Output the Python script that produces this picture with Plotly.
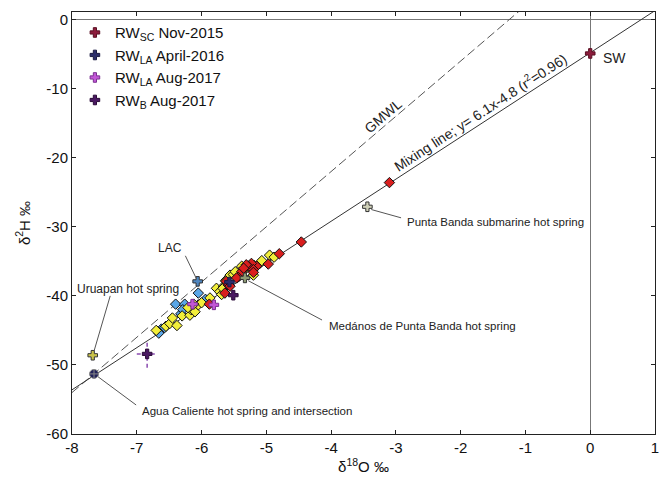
import math
import plotly.graph_objects as go

# ---------------- data ----------------
x_range = [-8, 1]
y_range = [-60, 1.1]
x_ticks = list(range(-8, 2))
y_ticks = list(range(-60, 1, 10))
x_ticktext = [str(v) for v in x_ticks]
y_ticktext = [str(v) for v in y_ticks]

mix_slope, mix_int = 6.1, -4.8      # mixing line y = 6.1x - 4.8
gmwl_slope, gmwl_int = 8.0, 10.0    # GMWL y = 8x + 10

blue_x = [-6.05, -6.40, -6.26, -6.32, -6.62, -6.57, -6.66, -5.94, -6.29]
blue_y = [-39.6, -41.2, -41.2, -42.6, -44.8, -44.6, -45.4, -40.5, -42.0]

yellow_x = [-6.70, -6.55, -6.49, -6.38, -6.30, -6.18, -6.16, -6.21, -6.10, -6.05,
            -6.00, -5.87, -5.77, -5.72, -5.66, -5.56, -5.51, -5.48, -5.38, -5.30,
            -5.19, -5.20, -5.10, -5.07, -4.95, -4.88, -5.69, -5.67, -6.45, -6.12, -5.63]
yellow_y = [-45.0, -44.4, -44.0, -44.3, -42.9, -42.8, -42.0, -41.7, -42.3, -41.3,
            -41.0, -40.3, -38.9, -39.4, -38.6, -37.0, -36.9, -36.5, -35.7, -35.9,
            -35.6, -37.0, -35.3, -34.9, -34.1, -34.4, -39.8, -38.9, -43.2, -41.2, -37.8]

red_x = [-4.46, -4.80, -4.97, -5.15, -5.23, -5.28, -5.20, -5.20, -5.31, -5.38,
         -5.44, -5.46, -5.59, -5.62, -5.56, -5.64, -5.35, -5.88, -3.10]
red_y = [-32.2, -33.9, -35.4, -35.7, -35.3, -35.7, -36.2, -36.6, -35.5, -36.5,
         -37.3, -37.4, -38.4, -37.9, -38.6, -39.6, -36.0, -41.2, -23.6]

rwsc_x, rwsc_y = [0.0], [-4.9]
rwla16_x, rwla16_y = [-5.57], [-38.0]
rwla17_x, rwla17_y = [-6.14, -5.81], [-41.2, -41.3]
rwb_x, rwb_y = [-5.51, -6.84], [-39.9, -48.4]
rwb_ex, rwb_ey = [0.0, 0.16], [0.0, 2.0]

lac_x, lac_y = [-6.06], [-37.9]
uru_x, uru_y = [-7.68], [-48.6]
agua_x, agua_y = [-7.66], [-51.3]
medanos_x, medanos_y = [-5.33], [-37.4]
punta_x, punta_y = [-3.44], [-27.1]

legend_names = ["RW<sub>SC</sub> Nov-2015", "RW<sub>LA</sub> April-2016",
                "RW<sub>LA</sub> Aug-2017", "RW<sub>B</sub> Aug-2017"]

# ---------------- layout geometry ----------------
W, H = 672, 488
ML, MR, MT, MB = 72, 17, 12, 54
pw, ph = W - ML - MR, H - MT - MB
px_per_x = pw / (x_range[1] - x_range[0])
px_per_y = ph / (y_range[1] - y_range[0])

def angle(slope):
    return -math.degrees(math.atan(slope * px_per_y / px_per_x))

FONT = "Liberation Sans, Arial, sans-serif"
fig = go.Figure()

# lines
lx = [x_range[0], x_range[1]]
fig.add_trace(go.Scatter(x=lx, y=[gmwl_slope * v + gmwl_int for v in lx], mode="lines",
                         line=dict(color="#555555", width=1, dash="9px,4px"),
                         showlegend=False, hoverinfo="skip"))
fig.add_trace(go.Scatter(x=lx, y=[mix_slope * v + mix_int for v in lx], mode="lines",
                         line=dict(color="#333333", width=1), showlegend=False, hoverinfo="skip"))

# error bars (dashed) for RWB point
for xv, yv, ex, ey in zip(rwb_x, rwb_y, rwb_ex, rwb_ey):
    if ex > 0:
        fig.add_trace(go.Scatter(x=[xv - ex, xv + ex], y=[yv, yv], mode="lines",
                                 line=dict(color="#8a4cb0", width=1.5, dash="4px,3px"),
                                 showlegend=False, hoverinfo="skip"))
        fig.add_trace(go.Scatter(x=[xv, xv], y=[yv - ey, yv + ey], mode="lines",
                                 line=dict(color="#8a4cb0", width=1.5, dash="4px,3px"),
                                 showlegend=False, hoverinfo="skip"))

dia_line = dict(color="#111111", width=1)
fig.add_trace(go.Scatter(x=blue_x, y=blue_y, mode="markers", showlegend=False,
                         marker=dict(symbol="diamond", size=8, color="#5aa6e6", line=dia_line)))
fig.add_trace(go.Scatter(x=yellow_x, y=yellow_y, mode="markers", showlegend=False,
                         marker=dict(symbol="diamond", size=8, color="#f2ee3a", line=dia_line)))
fig.add_trace(go.Scatter(x=red_x, y=red_y, mode="markers", showlegend=False,
                         marker=dict(symbol="diamond", size=8, color="#d91e1e", line=dia_line)))

def cross(xs, ys, color, name=None, size=8, lc="#333333", sym="cross"):
    fig.add_trace(go.Scatter(x=xs, y=ys, mode="markers", name=name or "",
                             showlegend=name is not None,
                             marker=dict(symbol=sym, size=size, color=color,
                                         line=dict(color=lc, width=1))))

cross(lac_x, lac_y, "#4f86bf")
cross(uru_x, uru_y, "#c9c24a")
cross(medanos_x, medanos_y, "#8d9a72")
cross(punta_x, punta_y, "#cfd0b8")
cross(agua_x, agua_y, "#23235a", sym="circle-cross", size=9, lc="#888888")

cross(rwsc_x, rwsc_y, "#8c1c3c", legend_names[0], lc="#5a0f22")
cross(rwla16_x, rwla16_y, "#2a2c6a", legend_names[1], lc="#1a1a40")
cross(rwla17_x, rwla17_y, "#c257d6", legend_names[2], lc="#7a2f90")
cross(rwb_x, rwb_y, "#4a1862", legend_names[3], lc="#2a0a38")

# ---------------- annotations ----------------
ann = []
def label(text, x, y, size=11, xanchor="center", ang=0):
    ann.append(dict(text=text, x=x, y=y, xref="x", yref="y", showarrow=False,
                    xanchor=xanchor, yanchor="middle", textangle=ang,
                    font=dict(size=size, color="#222222", family=FONT)))

label("GMWL", -3.2, -13.9, size=14, ang=angle(gmwl_slope))
label("Mixing line; y= 6.1x-4.8 (r<sup>2</sup>=0.96)", -1.70, -13.4, size=14, ang=angle(mix_slope))
label("SW", 0.16, -5.6, size=14, xanchor="left")
label("LAC", -6.49, -33.0, size=12)
label("Uruapan hot spring", -7.13, -39.0, size=12)
label("Agua Caliente hot spring and intersection", -6.95, -56.6, size=11.5, xanchor="left")
label("Medános de Punta Banda hot spring", -4.06, -44.3, size=11.5, xanchor="left")
label("Punta Banda submarine hot spring", -2.86, -29.3, size=11.5, xanchor="left")

shapes = []
def leader(x0, y0, x1, y1):
    shapes.append(dict(type="line", xref="x", yref="y", x0=x0, y0=y0, x1=x1, y1=y1,
                       line=dict(color="#555555", width=1)))

leader(lac_x[0] - 0.02, lac_y[0] + 0.4, -6.25, -34.2)
leader(uru_x[0] + 0.02, uru_y[0] + 0.6, -7.41, -40.0)
leader(agua_x[0] + 0.06, agua_y[0] - 0.4, -7.01, -55.8)
leader(medanos_x[0] + 0.05, medanos_y[0] - 0.4, -4.14, -43.5)
leader(punta_x[0] + 0.06, punta_y[0] - 0.4, -2.92, -28.7)

axis_common = dict(showline=True, linecolor="#222222", linewidth=1, mirror="ticks",
                   ticks="inside", ticklen=4, tickcolor="#222222", showgrid=False,
                   zeroline=True, zerolinecolor="#777777", zerolinewidth=1,
                   tickfont=dict(size=15, color="#111111", family=FONT))

fig.update_layout(
    width=W, height=H, margin=dict(l=ML, r=MR, t=MT, b=MB),
    paper_bgcolor="white", plot_bgcolor="white",
    font=dict(family=FONT, color="#111111"),
    xaxis=dict(range=x_range, tickvals=x_ticks, ticktext=x_ticktext, **axis_common,
               title=dict(text="δ<sup>18</sup>O ‰", font=dict(size=15, family=FONT), standoff=6)),
    yaxis=dict(range=y_range, tickvals=y_ticks, ticktext=y_ticktext, **axis_common,
               title=dict(text="δ<sup>2</sup>H ‰", font=dict(size=15, family=FONT), standoff=12)),
    legend=dict(x=0.005, y=0.99, xanchor="left", yanchor="top", bgcolor="rgba(0,0,0,0)",
                font=dict(size=15, family=FONT, color="#111111"), tracegroupgap=0,
                itemwidth=30),
    annotations=ann, shapes=shapes,
)

fig.write_html("out.html")
